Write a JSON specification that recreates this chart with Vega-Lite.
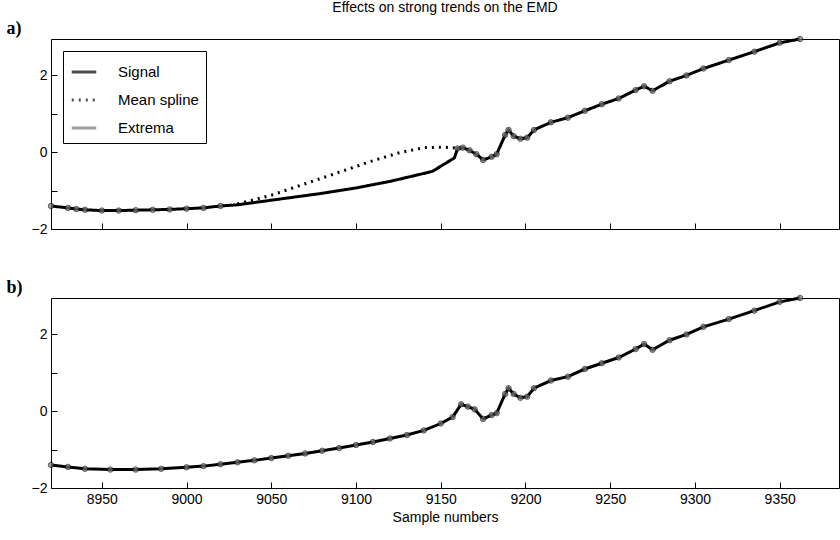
{
  "$schema": "https://vega.github.io/schema/vega-lite/v6.json",
  "background": "white",
  "padding": {"left": 5, "top": 0, "right": 2, "bottom": 2},
  "datasets": {
    "sigA": [
      {"x": 8920, "y": -1.4, "ext": true}, {"x": 8930, "y": -1.45, "ext": true}, {"x": 8935, "y": -1.48, "ext": true},
      {"x": 8940, "y": -1.5, "ext": true}, {"x": 8950, "y": -1.52, "ext": true}, {"x": 8960, "y": -1.52, "ext": true},
      {"x": 8970, "y": -1.51, "ext": true}, {"x": 8980, "y": -1.5, "ext": true}, {"x": 8990, "y": -1.49, "ext": true},
      {"x": 9000, "y": -1.47, "ext": true}, {"x": 9010, "y": -1.45, "ext": true}, {"x": 9020, "y": -1.4, "ext": true},
      {"x": 9030, "y": -1.37, "ext": false}, {"x": 9050, "y": -1.25, "ext": false}, {"x": 9080, "y": -1.07, "ext": false},
      {"x": 9100, "y": -0.93, "ext": false}, {"x": 9120, "y": -0.76, "ext": false}, {"x": 9145, "y": -0.5, "ext": false},
      {"x": 9158, "y": -0.15, "ext": false}, {"x": 9160, "y": 0.1, "ext": true}, {"x": 9163, "y": 0.12, "ext": true},
      {"x": 9167, "y": 0.05, "ext": true}, {"x": 9171, "y": -0.05, "ext": true}, {"x": 9175, "y": -0.2, "ext": true},
      {"x": 9180, "y": -0.12, "ext": true}, {"x": 9183, "y": -0.05, "ext": true}, {"x": 9188, "y": 0.45, "ext": true},
      {"x": 9190, "y": 0.58, "ext": true}, {"x": 9193, "y": 0.42, "ext": true}, {"x": 9197, "y": 0.35, "ext": true},
      {"x": 9201, "y": 0.38, "ext": true}, {"x": 9205, "y": 0.58, "ext": true}, {"x": 9215, "y": 0.78, "ext": true},
      {"x": 9225, "y": 0.9, "ext": true}, {"x": 9235, "y": 1.08, "ext": true}, {"x": 9245, "y": 1.25, "ext": true},
      {"x": 9255, "y": 1.4, "ext": true}, {"x": 9265, "y": 1.62, "ext": true}, {"x": 9270, "y": 1.72, "ext": true},
      {"x": 9275, "y": 1.6, "ext": true}, {"x": 9285, "y": 1.85, "ext": true}, {"x": 9295, "y": 2.0, "ext": true},
      {"x": 9305, "y": 2.18, "ext": true}, {"x": 9320, "y": 2.4, "ext": true}, {"x": 9335, "y": 2.62, "ext": true},
      {"x": 9350, "y": 2.85, "ext": true}, {"x": 9362, "y": 2.95, "ext": true}
    ],
    "spline": [
      {"x": 9030, "y": -1.35}, {"x": 9050, "y": -1.12}, {"x": 9070, "y": -0.82}, {"x": 9090, "y": -0.52},
      {"x": 9110, "y": -0.22}, {"x": 9125, "y": -0.02}, {"x": 9140, "y": 0.12}, {"x": 9152, "y": 0.13}, {"x": 9162, "y": 0.1}
    ],
    "sigB": [
      {"x": 8920, "y": -1.4}, {"x": 8930, "y": -1.45}, {"x": 8940, "y": -1.5}, {"x": 8955, "y": -1.52}, {"x": 8970, "y": -1.52},
      {"x": 8985, "y": -1.5}, {"x": 9000, "y": -1.46}, {"x": 9010, "y": -1.43}, {"x": 9020, "y": -1.38}, {"x": 9030, "y": -1.33},
      {"x": 9040, "y": -1.28}, {"x": 9050, "y": -1.22}, {"x": 9060, "y": -1.16}, {"x": 9070, "y": -1.1}, {"x": 9080, "y": -1.03},
      {"x": 9090, "y": -0.96}, {"x": 9100, "y": -0.88}, {"x": 9110, "y": -0.8}, {"x": 9120, "y": -0.71}, {"x": 9130, "y": -0.62},
      {"x": 9140, "y": -0.5}, {"x": 9150, "y": -0.32}, {"x": 9157, "y": -0.15}, {"x": 9162, "y": 0.18}, {"x": 9166, "y": 0.12},
      {"x": 9170, "y": 0.05}, {"x": 9175, "y": -0.2}, {"x": 9180, "y": -0.1}, {"x": 9183, "y": -0.05}, {"x": 9188, "y": 0.45},
      {"x": 9190, "y": 0.6}, {"x": 9193, "y": 0.45}, {"x": 9197, "y": 0.35}, {"x": 9201, "y": 0.38}, {"x": 9205, "y": 0.6},
      {"x": 9215, "y": 0.8}, {"x": 9225, "y": 0.9}, {"x": 9235, "y": 1.1}, {"x": 9245, "y": 1.25}, {"x": 9255, "y": 1.4},
      {"x": 9265, "y": 1.62}, {"x": 9270, "y": 1.75}, {"x": 9275, "y": 1.6}, {"x": 9285, "y": 1.85}, {"x": 9295, "y": 2.0},
      {"x": 9305, "y": 2.2}, {"x": 9320, "y": 2.4}, {"x": 9335, "y": 2.62}, {"x": 9350, "y": 2.85}, {"x": 9362, "y": 2.95}
    ]
  },
  "config": {
    "font": "Liberation Sans",
    "view": {"stroke": "black", "strokeWidth": 1},
    "axis": {"grid": false, "domain": false, "tickSize": -6, "tickColor": "black", "labelColor": "black", "labelFontSize": 14, "labelPadding": 10, "titleFontWeight": "normal", "titleFontSize": 14, "titleColor": "black"}
  },
  "vconcat": [
    {
      "width": 788, "height": 190,
      "title": {"text": "Effects on strong trends on the EMD", "fontSize": 14, "fontWeight": "normal", "offset": 4},
      "layer": [
        {
          "data": {"name": "sigA"},
          "mark": {"type": "line", "strokeWidth": 3},
          "encoding": {
            "x": {"field": "x", "type": "quantitative", "scale": {"domain": [8920, 9385], "nice": false}, "axis": {"labels": false, "title": null, "values": [8950, 9000, 9050, 9100, 9150, 9200, 9250, 9300, 9350]}},
            "y": {"field": "y", "type": "quantitative", "scale": {"domain": [-2, 2.95], "nice": false},
              "axis": {"values": [-2, -1, 0, 1, 2], "labelExpr": "datum.value % 2 == 0 ? (datum.value < 0 ? '\u22122' : datum.label) : ''", "title": "a)", "titleAngle": 0, "titleFont": "Liberation Serif", "titleFontWeight": "bold", "titleFontSize": 18, "titleX": -45, "titleY": -2, "titleAlign": "left"}},
            "color": {"datum": "Signal", "type": "nominal", "scale": {"domain": ["Signal", "Mean spline", "Extrema"], "range": ["black", "black", "#777"]},
              "legend": {"title": null, "orient": "top-left", "labelFontSize": 15, "labelColor": "black", "strokeColor": "black", "fillColor": "white", "padding": 7, "offset": 12, "labelOffset": 20, "symbolType": "stroke", "symbolStrokeWidth": 3, "symbolSize": 600, "rowPadding": 6, "labelLimit": 300}},
            "strokeDash": {"datum": "Signal", "type": "nominal", "scale": {"domain": ["Signal", "Mean spline", "Extrema"], "range": [[1, 0], [2, 5], [1, 0]]}}
          }
        },
        {
          "data": {"name": "spline"},
          "mark": {"type": "line", "strokeWidth": 3, "strokeDash": [2, 5]},
          "encoding": {
            "x": {"field": "x", "type": "quantitative"},
            "y": {"field": "y", "type": "quantitative"},
            "color": {"datum": "Mean spline", "type": "nominal"},
            "strokeDash": {"datum": "Mean spline", "type": "nominal"}
          }
        },
        {
          "data": {"name": "sigA"},
          "transform": [{"filter": "datum.ext"}],
          "mark": {"type": "point", "filled": true, "size": 30, "stroke": "black", "strokeWidth": 0.8},
          "encoding": {
            "x": {"field": "x", "type": "quantitative"},
            "y": {"field": "y", "type": "quantitative"},
            "color": {"datum": "Extrema", "type": "nominal"}
          }
        }
      ]
    },
    {
      "width": 788, "height": 190,
      "layer": [
        {
          "data": {"name": "sigB"},
          "mark": {"type": "line", "strokeWidth": 3, "color": "black"},
          "encoding": {
            "x": {"field": "x", "type": "quantitative", "scale": {"domain": [8920, 9385], "nice": false}, "axis": {"title": "Sample numbers", "values": [8950, 9000, 9050, 9100, 9150, 9200, 9250, 9300, 9350], "format": "d", "titlePadding": 4}},
            "y": {"field": "y", "type": "quantitative", "scale": {"domain": [-2, 2.95], "nice": false},
              "axis": {"values": [-2, -1, 0, 1, 2], "labelExpr": "datum.value % 2 == 0 ? (datum.value < 0 ? '\u22122' : datum.label) : ''", "title": "b)", "titleAngle": 0, "titleFont": "Liberation Serif", "titleFontWeight": "bold", "titleFontSize": 18, "titleX": -45, "titleY": -2, "titleAlign": "left"}}
          }
        },
        {
          "data": {"name": "sigB"},
          "mark": {"type": "point", "filled": true, "size": 30, "color": "#777", "stroke": "black", "strokeWidth": 0.8},
          "encoding": {
            "x": {"field": "x", "type": "quantitative"},
            "y": {"field": "y", "type": "quantitative"}
          }
        }
      ]
    }
  ],
  "spacing": 40
}
